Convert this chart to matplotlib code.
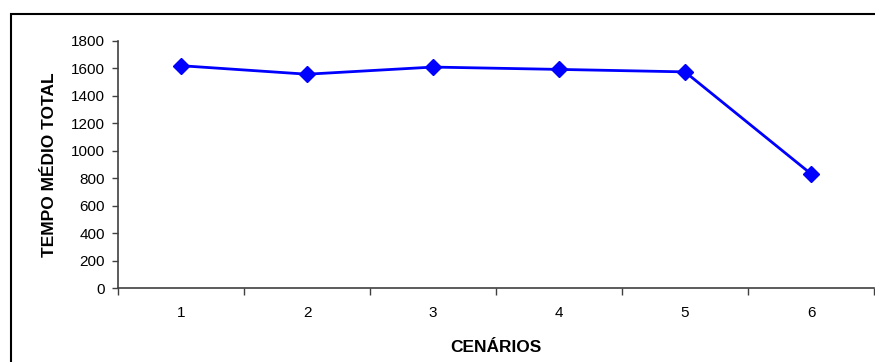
import numpy as np
import matplotlib.pyplot as plt
from matplotlib.patches import Rectangle

plt.rcParams['font.family'] = ['Liberation Sans', 'DejaVu Sans']

# dados
cenarios = [1, 2, 3, 4, 5, 6]
tempo_medio = [1620, 1558, 1610, 1593, 1575, 832]
yticks = [0, 200, 400, 600, 800, 1000, 1200, 1400, 1600, 1800]

fig = plt.figure(figsize=(8.75, 3.62), dpi=100)
ax = fig.add_axes([118 / 875, (362 - 288) / 362, (874 - 118) / 875, 247 / 362])

# moldura externa do gráfico
fig.patches.append(Rectangle((11 / 875, -0.1), 1.2, (362 - 14) / 362 + 0.1,
                             transform=fig.transFigure, fill=False,
                             edgecolor='black', linewidth=1.5))

ax.plot(cenarios, tempo_medio, color='#0000ff', linewidth=2,
        marker='D', markersize=8.5, clip_on=False)

ax.set_xlim(0.5, 6.5)
ax.set_ylim(0, 1800)
ax.set_yticks(yticks)
ax.set_xticks(np.arange(0.5, 7, 1))
ax.set_xticklabels([])
ax.set_xticks(cenarios, minor=True)
ax.set_xticklabels([str(c) for c in cenarios], minor=True)
ax.tick_params(axis='x', which='minor', length=0, pad=13, labelsize=11)
ax.tick_params(axis='x', which='major', length=5, width=1, color='#404040', direction='out')
ax.tick_params(axis='y', length=4.5, width=1, color='#404040', pad=5, labelsize=11)

for s in ['top', 'right']:
    ax.spines[s].set_visible(False)
for s in ['left', 'bottom']:
    ax.spines[s].set_color('#404040')
    ax.spines[s].set_linewidth(1.2)

ax.set_xlabel('CENÁRIOS', fontsize=12.5, fontweight='bold', labelpad=14)
ax.set_ylabel('TEMPO MÉDIO TOTAL', fontsize=12.5, fontweight='bold', labelpad=10)

fig.savefig('out.png', dpi=100)
